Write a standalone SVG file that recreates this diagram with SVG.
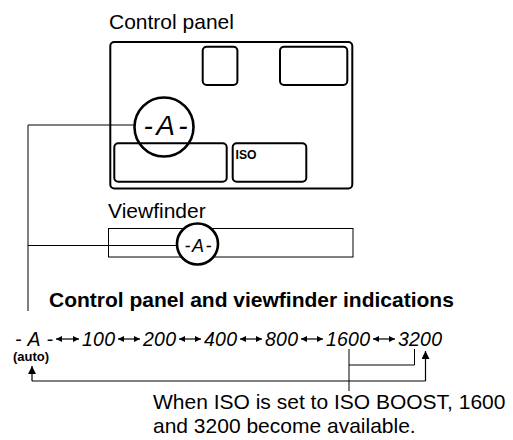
<svg xmlns="http://www.w3.org/2000/svg" width="513" height="440" viewBox="0 0 513 440">
<style>
.t{font-family:"Liberation Sans",Arial,sans-serif;fill:#000}
.r{font-size:21px}
.b{font-size:21px;font-weight:bold}
.lcd{font-family:"Liberation Sans",Arial,sans-serif;font-style:italic;fill:#000}
.seq{font-size:19.5px}
.box{fill:none;stroke:#000;stroke-width:2}
.ln{fill:none;stroke:#000;stroke-width:1}
.ring{fill:#fff;stroke:#000;stroke-width:2.6}
.sa{fill:none;stroke:#000;stroke-width:1.2;marker-start:url(#st);marker-end:url(#st)}
.ua{fill:none;stroke:#000;stroke-width:1.2;marker-end:url(#bt)}
</style>
<defs>
<marker id="st" viewBox="0 0 6 6" refX="6" refY="3" markerWidth="6" markerHeight="6" markerUnits="userSpaceOnUse" orient="auto-start-reverse"><path d="M0,0 L6,3 L0,6 z" fill="#000"/></marker>
<marker id="bt" viewBox="0 0 8 8" refX="8" refY="4" markerWidth="8" markerHeight="8" markerUnits="userSpaceOnUse" orient="auto"><path d="M0,0 L8,4 L0,8 z" fill="#000"/></marker>
</defs>

<g id="connectors">
<path class="ln" d="M28,125 H134.5 M28,125 V311 M28,245.5 H176.5"/>
<path class="ln" d="M349,349 V391 M349,365 H414.5 V349"/>
<path class="ln" d="M32,381 H425.5"/>
<path class="ua" d="M32,381 V366"/>
<path class="ua" d="M425.5,381 V351"/>
</g>

<g id="control-panel">
<text class="t r" x="109" y="29">Control panel</text>
<rect class="box" x="110.3" y="42" width="242" height="146.5" rx="4"/>
<rect class="box" x="202.7" y="46.7" width="34.7" height="38.3" rx="4"/>
<rect class="box" x="280" y="46.7" width="67.3" height="38.3" rx="4"/>
<rect class="box" x="114.3" y="143.3" width="112.4" height="38.4" rx="4"/>
<rect class="box" x="232.7" y="143.3" width="73.6" height="38.4" rx="4"/>
<text class="t" x="235.5" y="158.5" style="font-size:13px;font-weight:bold" textLength="21" lengthAdjust="spacingAndGlyphs">ISO</text>
<circle cx="164" cy="127" r="29.5" fill="none" stroke="#000" stroke-width="2.6"/>
<text class="lcd" x="143.5" y="135" style="font-size:28px" textLength="44" lengthAdjust="spacing">-A-</text>
</g>

<g id="viewfinder">
<text class="t r" x="108" y="218">Viewfinder</text>
<rect class="ln" x="108.5" y="228.5" width="244.5" height="28.5"/>
<circle class="ring" cx="197.5" cy="244" r="20.5"/>
<text class="lcd" x="184.5" y="251.5" style="font-size:18px" textLength="27" lengthAdjust="spacing">-A-</text>
</g>

<g id="title">
<text class="t b" x="49" y="307">Control panel and viewfinder indications</text>
</g>

<g id="iso-sequence">
<text class="lcd seq" x="15" y="346" textLength="38" lengthAdjust="spacing">-A-</text>
<text class="lcd seq" x="82" y="346" textLength="33" lengthAdjust="spacing">100</text>
<text class="lcd seq" x="143" y="346" textLength="33" lengthAdjust="spacing">200</text>
<text class="lcd seq" x="204" y="346" textLength="33" lengthAdjust="spacing">400</text>
<text class="lcd seq" x="265" y="346" textLength="33" lengthAdjust="spacing">800</text>
<text class="lcd seq" x="326" y="346" textLength="44" lengthAdjust="spacing">1600</text>
<text class="lcd seq" x="398" y="346" textLength="44" lengthAdjust="spacing">3200</text>
<path class="sa" d="M56,339 H79"/>
<path class="sa" d="M118,339 H140"/>
<path class="sa" d="M179,339 H201"/>
<path class="sa" d="M240,339 H262"/>
<path class="sa" d="M301,339 H323"/>
<path class="sa" d="M373,339 H395"/>
<text class="t" x="13" y="361" style="font-size:13px;font-weight:bold">(auto)</text>
</g>

<g id="note">
<text class="t r" x="153" y="409">When ISO is set to ISO BOOST, 1600</text>
<text class="t r" x="153" y="433">and 3200 become available.</text>
</g>
</svg>
